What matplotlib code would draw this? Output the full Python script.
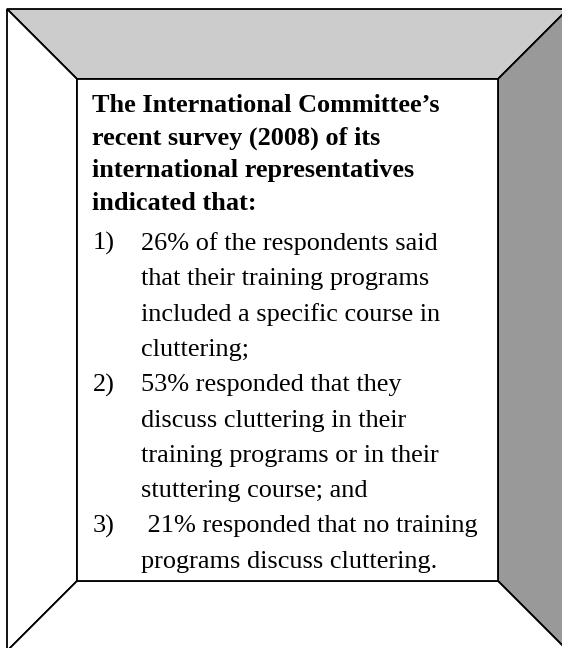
import matplotlib.pyplot as plt
from matplotlib.patches import Polygon

# frame geometry in pixels (outer box is cut off at right and bottom)
outer = (7, 9, 568, 651)
inner = (77, 79, 498, 581)

header_lines = [
    "The International Committee\u2019s",
    "recent survey (2008) of its",
    "international representatives",
    "indicated that:",
]
item_numbers = ["1)", "2)", "3)"]
item_lines = [
    ["26% of the respondents said",
     "that their training programs",
     "included a specific course in",
     "cluttering;"],
    ["53% responded that they",
     "discuss cluttering in their",
     "training programs or in their",
     "stuttering course; and"],
    [" 21% responded that no training",
     "programs discuss cluttering."],
]

fig = plt.figure(figsize=(5.62, 6.48), dpi=100)
ax = fig.add_axes([0, 0, 1, 1])
ax.set_xlim(0, 562)
ax.set_ylim(648, 0)
ax.axis("off")

x0, y0, x1, y1 = outer
ix0, iy0, ix1, iy1 = inner
panels = [
    ([(x0, y0), (x1, y0), (ix1, iy0), (ix0, iy0)], "#cccccc"),
    ([(x1, y0), (x1, y1), (ix1, iy1), (ix1, iy0)], "#999999"),
    ([(x0, y0), (ix0, iy0), (ix0, iy1), (x0, y1)], "white"),
    ([(x0, y1), (ix0, iy1), (ix1, iy1), (x1, y1)], "white"),
    ([(ix0, iy0), (ix1, iy0), (ix1, iy1), (ix0, iy1)], "white"),
]
for pts, col in panels:
    ax.add_patch(Polygon(pts, closed=True, facecolor=col, edgecolor="black",
                         linewidth=1.3, joinstyle="miter"))

font = ["Liberation Serif", "DejaVu Serif"]
size = 18.9

y = 112
for line in header_lines:
    ax.text(92, y, line, fontsize=size, family=font, fontweight="bold",
            va="baseline", ha="left")
    y += 32.5

y = 250
for num, lines in zip(item_numbers, item_lines):
    ax.text(93, y, num, fontsize=size, family=font, va="baseline", ha="left")
    for line in lines:
        ax.text(141, y, line, fontsize=size, family=font, va="baseline", ha="left")
        y += 35.3

fig.savefig("out.png", dpi=100)
